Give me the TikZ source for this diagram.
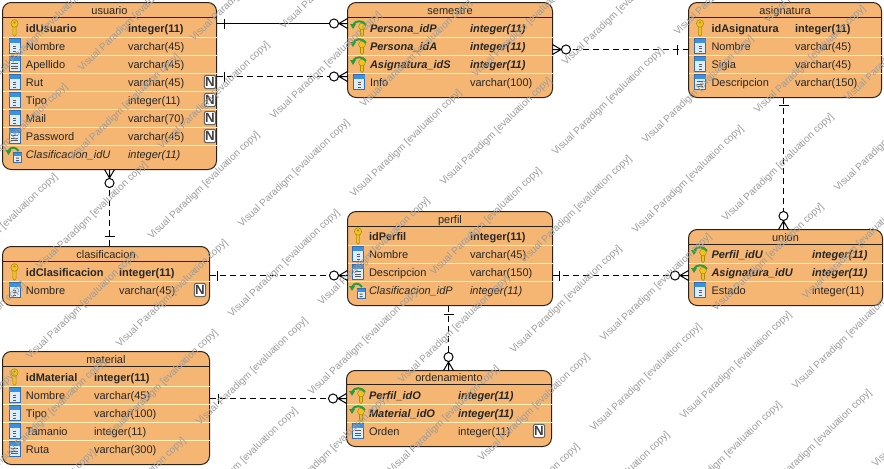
\documentclass[tikz,border=0pt]{standalone}
\usepackage{fontspec}
\setmainfont{Liberation Sans}
\usetikzlibrary{arrows.meta}
\definecolor{tblfill}{HTML}{F5B673}
\definecolor{tblline}{HTML}{2A2118}
\definecolor{rowline}{HTML}{FFF2B8}
\definecolor{keyfill}{HTML}{F2C21E}
\definecolor{keyline}{HTML}{A98A12}
\definecolor{colband}{HTML}{3D8FE0}
\definecolor{colbody}{HTML}{DCEEFB}
\definecolor{colline}{HTML}{2F6DB5}
\definecolor{fkgreen}{HTML}{2E9A3C}
\definecolor{wmgrey}{HTML}{9C9C9C}
\newcounter{rwc}
\tikzset{
  tbl/.style={draw=tblline,fill=tblfill,rounded corners=6.5pt,line width=.75pt,inner sep=0pt,outer sep=0pt},
  cell/.style={inner sep=0pt,outer sep=0pt,anchor=base west,text=black!85,font=\fontsize{8.25}{10}\selectfont},
  headtext/.style={inner sep=0pt,outer sep=0pt,anchor=base,text=black!85,font=\fontsize{8.25}{10}\selectfont},
  nr/.style={},
  nb/.style={font=\fontsize{8.25}{10}\selectfont\bfseries},
  ni/.style={font=\fontsize{8.25}{10}\selectfont\itshape},
  nbi/.style={font=\fontsize{8.25}{10}\selectfont\bfseries\itshape},
  nullbadge/.style={draw=black!60,fill=white,rounded corners=1.5pt,line width=.8pt,inner sep=0pt,outer sep=0pt,
    minimum width=8.5pt,minimum height=10pt,text=black!75,font=\fontsize{10}{10}\selectfont\bfseries},
  wm/.style={inner sep=0pt,outer sep=0pt,anchor=west,rotate=44,text=wmgrey,font=\fontsize{7.5}{9}\selectfont},
  rel/.style={line width=.75pt,draw=black},
  reldash/.style={rel,dash pattern=on 4.5pt off 3pt},
  erbar/.pic={\draw[rel] (0,-5)--(0,5);},
  ercrow/.pic={\draw[rel] (0,-5)--(-8.5,0)--(0,5) (0,0)--(-8.5,0);
     \draw[rel,fill=white] (-13.5,0) circle[radius=3.4pt];},
  erkey/.pic={\fill[keyfill,draw=keyline,line width=.4pt] (-1.7,-2)--(-1.7,6.5)--(0,8.2)--(1.7,6.5)--(1.7,-2)--cycle;
     \fill[keyfill,draw=keyline,line width=.4pt] (0,-4.5) ellipse[x radius=3.6,y radius=3.8];
     \fill[keyline] (0,-5.5) circle[radius=.8pt];},
  ercol/.pic={\fill[colbody,draw=colline,line width=.5pt] (-5.5,-7.5) rectangle (5.5,7.5);
     \fill[colband] (-5.5,-7.5) rectangle (5.5,-3);
     \foreach \q in {-.5,2,4.5}{\fill[black!65] (-1.5,\q) rectangle (1.5,\q+1.1);}},
  ercoltxt/.pic={\fill[colbody,draw=colline,line width=.5pt] (-5.5,-7.5) rectangle (5.5,7.5);
     \fill[colband] (-5.5,-7.5) rectangle (5.5,-3);
     \foreach \q in {-1,1.5,4}{\fill[black!65] (-3.5,\q) rectangle (3,\q+1);}},
  erfk/.pic={\fill[keyfill,draw=keyline,line width=.4pt] (1.5,-1)--(1.5,7)--(3,8.5)--(4.5,7)--(4.5,-1)--cycle;
     \fill[keyfill,draw=keyline,line width=.4pt] (3,-1.5) ellipse[x radius=3.4,y radius=3.4];
     \draw[fkgreen,line width=1.5pt] (7,-3) .. controls (4,-8) and (-4,-8) .. (-6,-3);
     \fill[fkgreen] (-9,-4)--(-3,-4)--(-6,1)--cycle;},
  erfkcol/.pic={\fill[colbody,draw=colline,line width=.5pt] (-1,-1.5) rectangle (7,8.5);
     \fill[colband] (-1,-1.5) rectangle (7,1.5);
     \fill[black!65] (1.5,3.5) rectangle (4.5,4.6) (1.5,6) rectangle (4.5,7.1);
     \draw[fkgreen,line width=1.5pt] (4,-3) .. controls (1,-7.5) and (-4,-7.5) .. (-6,-3);
     \fill[fkgreen] (-9,-4)--(-3,-4)--(-6,1)--cycle;},
}
% table frame: name, x1,y1,x2,y2, header rule y, title
\newcommand{\ertable}[7]{%
  \node[tbl,minimum width={(#4-#2)*0.75pt},minimum height={(#5-#3)*0.75pt}] (#1) at ({(#2+#4)/2},{(#3+#5)/2}) {};
  \node[headtext] (#1title) at ({(#2+#4)/2},{#6-3.5}) {#7};
  \draw[line width=.75pt,tblline] (#1.west |- 0,#6) -- (#1.east |- 0,#6);
  \def\curtbl{#1}%
}
\newcommand{\rowrule}[1]{\draw[rowline,line width=.75pt] (\curtbl.west |- 0,#1) ++(.4pt,0) -- (\curtbl.east |- 0,#1);}
% icon, y, style, name, type
\newcommand{\ercell}[5]{%
  \stepcounter{rwc}%
  \pic at (\ix,#2) {#1};
  \node[cell,#3] (cellname\therwc) at (\nx,#2+4) {#4};
  \node[cell,#3] (celltype\therwc) at (\tx,#2+4) {#5};
}
\newcommand{\nullmark}[2]{\stepcounter{rwc}\node[nullbadge] (null\therwc) at (#1,#2) {N};}
\begin{document}
\begin{tikzpicture}[x=.75pt,y=-.75pt]
\path[use as bounding box] (0,0) rectangle (884,468);
\fill[white] (0,0) rectangle (884,468);

% usuario
\ertable{usuario}{2.5}{2.5}{216.5}{169.5}{17.5}{usuario}
\foreach \y in {37.5,55.5,73.5,91.5,109.5,127.5,145.5}{\rowrule{\y}}
\def\ix{14.5}\def\nx{26}\def\tx{128}
\ercell{erkey}{28}{nb}{idUsuario}{integer(11)}
\ercell{ercol}{46}{nr}{Nombre}{varchar(45)}
\ercell{ercoltxt}{64}{nr}{Apellido}{varchar(45)}
\ercell{ercol}{82}{nr}{Rut}{varchar(45)}
\ercell{ercol}{100}{nr}{Tipo}{integer(11)}
\ercell{ercol}{118}{nr}{Mail}{varchar(70)}
\ercell{ercoltxt}{136}{nr}{Password}{varchar(45)}
\ercell{erfkcol}{154}{ni}{Clasificacion\_idU}{integer(11)}
\foreach \y in {82,100,118,136}{\nullmark{210}{\y}}

% semestre
\ertable{semestre}{347.5}{2.5}{552.5}{97.5}{17.5}{semestre}
\foreach \y in {37.5,55.5,73.5}{\rowrule{\y}}
\def\ix{359}\def\nx{370}\def\tx{470}
\ercell{erfk}{28}{nbi}{Persona\_idP}{integer(11)}
\ercell{erfk}{46}{nbi}{Persona\_idA}{integer(11)}
\ercell{erfk}{64}{nbi}{Asignatura\_idS}{integer(11)}
\ercell{ercol}{82}{nr}{Info}{varchar(100)}

% asignatura
\ertable{asignatura}{688.5}{2.5}{881.5}{97.5}{17.5}{asignatura}
\foreach \y in {37.5,55.5,73.5}{\rowrule{\y}}
\def\ix{700}\def\nx{711.5}\def\tx{795}
\ercell{erkey}{28}{nb}{idAsignatura}{integer(11)}
\ercell{ercol}{46}{nr}{Nombre}{varchar(45)}
\ercell{ercol}{64}{nr}{Sigla}{varchar(45)}
\ercell{ercoltxt}{82}{nr}{Descripcion}{varchar(150)}

% clasificacion
\ertable{clasificacion}{2.5}{246.5}{209.5}{305.5}{261.5}{clasificacion}
\rowrule{281.5}
\def\ix{14.5}\def\nx{26}\def\tx{119}
\ercell{erkey}{272}{nb}{idClasificacion}{integer(11)}
\ercell{ercol}{290}{nr}{Nombre}{varchar(45)}
\nullmark{200}{290}

% perfil
\ertable{perfil}{347.5}{211.5}{552.5}{305.5}{226.5}{perfil}
\foreach \y in {245.5,263.5,281.5}{\rowrule{\y}}
\def\ix{358}\def\nx{369}\def\tx{470}
\ercell{erkey}{236}{nb}{idPerfil}{integer(11)}
\ercell{ercol}{254}{nr}{Nombre}{varchar(45)}
\ercell{ercoltxt}{272}{nr}{Descripcion}{varchar(150)}
\ercell{erfkcol}{290}{ni}{Clasificacion\_idP}{integer(11)}

% union
\ertable{union}{688.5}{229.5}{882.5}{305.5}{244.5}{union}
\foreach \y in {263.5,281.5}{\rowrule{\y}}
\def\ix{700}\def\nx{711.5}\def\tx{812}
\ercell{erfk}{254}{nbi}{Perfil\_idU}{integer(11)}
\ercell{erfk}{272}{nbi}{Asignatura\_idU}{integer(11)}
\ercell{ercol}{290}{nr}{Estado}{integer(11)}

% material
\ertable{material}{2.5}{351.5}{209.5}{464.5}{366.5}{material}
\foreach \y in {386.5,404.5,422.5,440.5}{\rowrule{\y}}
\def\ix{14.5}\def\nx{26}\def\tx{94}
\ercell{erkey}{377}{nb}{idMaterial}{integer(11)}
\ercell{ercol}{395}{nr}{Nombre}{varchar(45)}
\ercell{ercol}{413}{nr}{Tipo}{varchar(100)}
\ercell{ercol}{431}{nr}{Tamanio}{integer(11)}
\ercell{ercoltxt}{449}{nr}{Ruta}{varchar(300)}

% ordenamiento
\ertable{ordenamiento}{346.5}{370.5}{551.5}{446.5}{384.5}{ordenamiento}
\foreach \y in {404.5,422.5}{\rowrule{\y}}
\def\ix{358}\def\nx{369}\def\tx{458}
\ercell{erfk}{395}{nbi}{Perfil\_idO}{integer(11)}
\ercell{erfk}{413}{nbi}{Material\_idO}{integer(11)}
\ercell{ercoltxt}{431}{nr}{Orden}{integer(11)}
\nullmark{539}{431}

% connectors
\draw[rel] (usuario.east |- 0,23.5) -- (semestre.west |- 0,23.5);
\pic at (224.5,23.5) {erbar};
\pic at (semestre.west |- 0,23.5) {ercrow};

\draw[reldash] (usuario.east |- 0,76.5) -- (semestre.west |- 0,76.5);
\pic at (224.5,76.5) {erbar};
\pic at (semestre.west |- 0,76.5) {ercrow};

\draw[reldash] (semestre.east |- 0,49.5) -- (asignatura.west |- 0,49.5);
\pic at (677.5,49.5) {erbar};
\pic[rotate=180] at (semestre.east |- 0,49.5) {ercrow};

\draw[reldash] (asignatura.south -| 783.5,0) -- (union.north -| 783.5,0);
\pic[rotate=90] at (783.5,105.5) {erbar};
\pic[rotate=-90] at (union.north -| 783.5,0) {ercrow};

\draw[reldash] (usuario.south -| 109.5,0) -- (clasificacion.north -| 109.5,0);
\pic[rotate=90] at (109.5,236.5) {erbar};
\pic[rotate=90] at (usuario.south -| 109.5,0) {ercrow};

\draw[reldash] (clasificacion.east |- 0,275.5) -- (perfil.west |- 0,275.5);
\pic at (217.5,275.5) {erbar};
\pic at (perfil.west |- 0,275.5) {ercrow};

\draw[reldash] (perfil.east |- 0,275.5) -- (union.west |- 0,275.5);
\pic at (559.5,275.5) {erbar};
\pic at (union.west |- 0,275.5) {ercrow};

\draw[reldash] (perfil.south -| 448.5,0) -- (ordenamiento.north -| 448.5,0);
\pic[rotate=90] at (448.5,314.5) {erbar};
\pic[rotate=-90] at (ordenamiento.north -| 448.5,0) {ercrow};

\draw[reldash] (material.east |- 0,398.5) -- (ordenamiento.west |- 0,398.5);
\pic at (218.5,398.5) {erbar};
\pic at (ordenamiento.west |- 0,398.5) {ercrow};

% watermark lattice: only the copies that reach the page
\foreach \i in {-3,...,4}{
  \foreach \j in {-7,...,2}{
    \foreach \s/\sx/\sy in {a/480/460,b/592/430}{
      \pgfmathsetmacro{\wx}{\sx+\i*202+\j*80}
      \pgfmathsetmacro{\wy}{\sy-\i*42+\j*78}
      \pgfmathtruncatemacro{\vis}{and(and(\wx>-112,\wx<884),and(\wy>0,\wy<574))}
      \ifnum\vis=1
        \node[wm] (wm\s\i\j) at (\wx,\wy) {Visual Paradigm [evaluation copy]};
      \fi
    }
  }
}
\end{tikzpicture}
\end{document}
